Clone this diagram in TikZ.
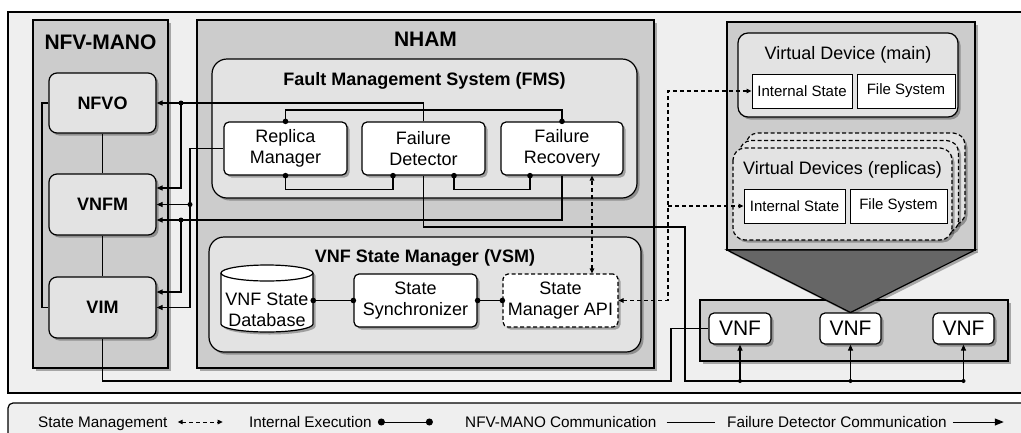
\documentclass[tikz,border=0pt]{standalone}
\usepackage{fontspec}
\setmainfont{Liberation Sans}
\usetikzlibrary{arrows.meta,shadows,calc}
\definecolor{bgc}{HTML}{EFEFEF}
\definecolor{panel}{HTML}{CCCCCC}
\definecolor{inner}{HTML}{E3E3E3}
\definecolor{dark}{HTML}{666666}
\begin{document}
\begin{tikzpicture}[x=1pt,y=-1pt,
  sh/.style={drop shadow={shadow xshift=2.5pt,shadow yshift=-2.5pt,opacity=0.3,fill=black}},
  panelbox/.style={draw,line width=1.2pt,fill=panel,sh},
  innerbox/.style={draw,line width=1.2pt,fill=inner,sh},
  ttl/.style={font=\fontsize{21pt}{24pt}\selectfont\bfseries},
  sttl/.style={font=\fontsize{18pt}{21pt}\selectfont\bfseries},
  vttl/.style={font=\fontsize{18pt}{21pt}\selectfont},
  manobox/.style={draw,line width=1.2pt,fill=inner,rounded corners=8pt,sh,minimum width=107pt,minimum height=60pt,inner sep=0pt,font=\fontsize{18pt}{21pt}\selectfont\bfseries},
  compbox/.style={draw,line width=1.2pt,fill=white,rounded corners=5pt,sh,minimum height=53pt,inner sep=0pt,align=center,font=\fontsize{18pt}{21pt}\selectfont},
  statebox/.style={draw,line width=1pt,fill=white,minimum height=34pt,inner sep=0pt,font=\fontsize{15pt}{18pt}\selectfont},
  vnfbox/.style={draw,line width=1.2pt,fill=white,rounded corners=5pt,sh,minimum height=31pt,inner sep=0pt,font=\fontsize{21pt}{24pt}\selectfont},
  repbox/.style={draw,line width=1.2pt,fill=inner,rounded corners=12pt,dash pattern=on 4pt off 2.5pt,sh},
  conn/.style={line width=1.2pt},
  fdc/.style={line width=1.2pt,-{Triangle[length=6pt,width=5pt]}},
  iex/.style={line width=1.2pt,{Circle[length=5.5pt]}-{Circle[length=5.5pt]},shorten <=-2.7pt,shorten >=-2.7pt},
  smg/.style={line width=1.2pt,dash pattern=on 4pt off 3pt},
  smboth/.style={smg,{Triangle[length=5pt,width=4.5pt]}-{Triangle[length=5pt,width=4.5pt]}},
  smend/.style={smg,-{Triangle[length=5pt,width=4.5pt]}},
  legtxt/.style={font=\fontsize{15.3pt}{18pt}\selectfont,inner sep=0pt}
]
\useasboundingbox (0,0) rectangle (1021,432);
\begin{scope}
\clip (0,0) rectangle (1021,432);
% outer frames
\draw[line width=1.2pt,fill=bgc] (8,12) rectangle (1030,393);
\draw[line width=1.2pt,fill=bgc,rounded corners=5pt] (8,445) -- (8,403) -- (1030,403) -- (1030,445) -- cycle;

% NFV-MANO
\draw[panelbox] (33,20) rectangle (168,368);
\node[ttl] (manottl) at (100.5,42) {NFV-MANO};
\node[manobox] (NFVO) at (102.5,103) {NFVO};
\node[manobox,minimum height=61pt] (VNFM) at (102.5,204.5) {VNFM};
\node[manobox,minimum height=61pt] (VIM) at (102.5,307.5) {VIM};

% NHAM
\draw[panelbox] (197,20) rectangle (654,368);
\node[ttl] (nhamttl) at (425.5,39) {NHAM};
\draw[innerbox,rounded corners=15pt] (212,59) rectangle (637,198);
\node[sttl] (fmsttl) at (424.5,81) {Fault Management System (FMS)};
\node[compbox,minimum width=123pt] (RM) at (285.5,148.5) {Replica\\Manager};
\node[compbox,minimum width=123pt] (FD) at (423.5,148.5) {Failure\\Detector};
\node[compbox,minimum width=122pt] (FR) at (562,148.5) {Failure\\Recovery};

\draw[innerbox,rounded corners=15pt] (209,237) rectangle (641,352);
\node[sttl] (vsmttl) at (425,258) {VNF State Manager (VSM)};
% database cylinder
\filldraw[line width=1.2pt,fill=white,sh] (221,273) -- (221,324) arc[start angle=180,end angle=360,x radius=46pt,y radius=8pt] -- (313,273) arc[start angle=0,end angle=180,x radius=46pt,y radius=8pt] -- cycle;
\draw[line width=1.2pt] (221,273) arc[start angle=180,end angle=360,x radius=46pt,y radius=8pt];
\node[minimum width=92pt,minimum height=67pt,inner sep=0pt] (DB) at (267,300.5) {};
\node[align=center,inner sep=0pt,font=\fontsize{18pt}{21pt}\selectfont] (DBtxt) at (267,310) {VNF State\\Database};
\node[compbox,minimum width=123pt] (SS) at (415.5,300.5) {State\\Synchronizer};
\node[compbox,minimum width=115pt,dash pattern=on 4pt off 2.5pt] (SMAPI) at (560.5,300.5) {State\\Manager API};

% right side
\draw[panelbox] (727,22) rectangle (975,250);
\draw[innerbox,rounded corners=10pt] (738,33) rectangle (958,117);
\node[vttl] (vdmttl) at (848,55) {Virtual Device (main)};
\node[statebox,minimum width=100pt] (ISm) at (802,91) {Internal State};
\node[statebox,minimum width=98pt] (FSm) at (906,91) {File System};
\draw[repbox] (746,133) rectangle (965,225);
\draw[repbox] (739.5,140.5) rectangle (958.5,232.5);
\draw[repbox] (733,148) rectangle (952,240);
\node[vttl] (vdrttl) at (842.5,170) {Virtual Devices (replicas)};
\node[statebox,minimum width=101pt] (ISr) at (794.5,206) {Internal State};
\node[statebox,minimum width=97pt] (FSr) at (898.5,206) {File System};

\draw[panelbox] (700,300) rectangle (1008,361);
\draw[line width=1.2pt,fill=dark,sh] (727,250) -- (975,250) -- (850.5,312.5) -- cycle;
\node[vnfbox,minimum width=62pt] (VNF1) at (740,328.5) {VNF};
\node[vnfbox,minimum width=61pt] (VNF2) at (850.5,328.5) {VNF};
\node[vnfbox,minimum width=61pt] (VNF3) at (963.5,328.5) {VNF};

% helper coordinates
\coordinate (xa) at (181,0);
\coordinate (xb) at (190,0);
\coordinate (vnfmhi) at ([yshift=16.5pt]VNFM.east);
\coordinate (vnfmlo) at ([yshift=-15.5pt]VNFM.east);
\coordinate (vimhi) at ([yshift=15.5pt]VIM.east);
\coordinate (b1) at (685,227);
\coordinate (b2) at (685,381);
\coordinate (vb) at (671,381);
\coordinate (sx) at (668,0);
\coordinate (smtop) at ([xshift=31.5pt]SMAPI.north);

% NFV-MANO communication
\draw[conn] (NFVO.south) -- (VNFM.north);
\draw[conn] (VNFM.south) -- (VIM.north);
\draw[conn] (NFVO.west) -- ++(-6.5,0) |- (VIM.west);
\draw[conn] (VIM.south) |- (vb) |- (VNF1.west);

% internal execution
\draw[iex] (RM.north) -- ++(0,-11.5) -| (FR.north);
\draw[iex] (RM.south) -- ++(0,14) -| ([xshift=-30.5pt]FD.south);
\draw[iex] ([xshift=30.5pt]FD.south) -- ++(0,14) -| ([xshift=-32pt]FR.south);
\draw[iex] (DB.east) -- (SS.west);
\draw[iex] (SS.east) -- (SMAPI.west);

% failure detector communication
\draw[fdc] (FD.north) |- (NFVO.east);
\draw[fdc] (xa |- NFVO.east) |- (vnfmhi);
\fill (xa |- NFVO.east) circle (2.5pt);
\draw[fdc] (RM.west) -- (xb |- RM.west) |- (VIM.east);
\draw[fdc] (xb |- VNFM.east) -- (VNFM.east);
\fill (xb |- VNFM.east) circle (2.5pt);
\draw[fdc] (FR.south) |- (vnfmlo);
\draw[fdc] (xa |- vnfmlo) |- (vimhi);
\fill (xa |- vnfmlo) circle (2.5pt);
\draw[conn] (FD.south) |- (b1) -- (b2) -- (VNF3.south |- b2);
\draw[fdc] (VNF1.south |- b2) -- (VNF1.south);
\draw[fdc] (VNF2.south |- b2) -- (VNF2.south);
\draw[fdc] (VNF3.south |- b2) -- (VNF3.south);
\fill (VNF1.south |- b2) circle (2pt);
\fill (VNF2.south |- b2) circle (2pt);
\fill (VNF3.south |- b2) circle (2pt);

% state management
\draw[smboth] (smtop) -- (smtop |- FR.south);
\draw[smboth] (SMAPI.east) -| (sx |- ISm.west) -- (ISm.west);
\draw[smend] (sx |- ISr.west) -- (ISr.west);

% legend
\node[legtxt,anchor=base west] (l1) at (38,427) {State Management};
\draw[smboth,line width=1pt] ($(l1.base east)+(10,-5)$) -- ++(45,0);
\node[legtxt,anchor=base west] (l2) at (249,427) {Internal Execution};
\draw[line width=1pt,{Circle[length=7pt]}-{Circle[length=7pt]}] ($(l2.base east)+(6,-5)$) -- ++(55,0);
\node[legtxt,anchor=base west] (l3) at (465,427) {NFV-MANO Communication};
\draw[conn,line width=1pt] ($(l3.base east)+(10,-5)$) -- ++(48,0);
\node[legtxt,anchor=base west] (l4) at (727,427) {Failure Detector Communication};
\draw[line width=1pt,-{Triangle[length=9pt,width=7pt]}] ($(l4.base east)+(6,-5)$) -- ++(51,0);
\end{scope}
\end{tikzpicture}
\end{document}
